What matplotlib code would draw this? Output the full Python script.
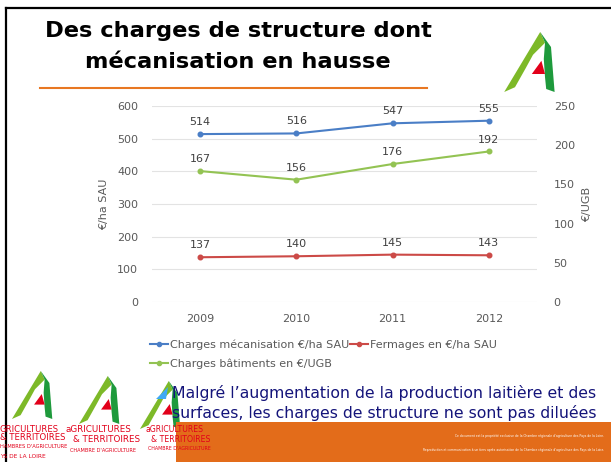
import matplotlib
matplotlib.use("Agg")
import matplotlib.pyplot as plt
from matplotlib.patches import Polygon, Rectangle, Circle
from matplotlib.lines import Line2D

years = ["2009", "2010", "2011", "2012"]
mecanisation = [514, 516, 547, 555]
fermages = [137, 140, 145, 143]
batiments = [167, 156, 176, 192]
left_ticks = [0, 100, 200, 300, 400, 500, 600]
right_ticks = [0, 50, 100, 150, 200, 250]

W, H = 611, 462
fig = plt.figure(figsize=(W / 100, H / 100), dpi=100)
fig.patch.set_facecolor("white")

bg = fig.add_axes([0, 0, 1, 1], zorder=0)
bg.set_xlim(0, W)
bg.set_ylim(H, 0)
bg.axis("off")

# slide frame
bg.plot([6, 6], [8, H], color="black", lw=1.6)
bg.plot([6, W], [8, 8], color="black", lw=1.6)

# title
bg.text(238, 31, "Des charges de structure dont", ha="center", va="center",
        fontsize=16.2, fontweight="bold", color="black")
bg.text(238, 62, "mécanisation en hausse", ha="center", va="center",
        fontsize=16.2, fontweight="bold", color="black")
bg.plot([40, 427], [88, 88], color="#E87722", lw=1.5)


def logo(cx, cy, s):
    def P(pts):
        return [(cx + x * s, cy + y * s) for x, y in pts]
    bg.add_patch(Polygon(P([(-0.48, 0.5), (0.12, -0.5), (0.2, -0.32), (0.0, -0.12),
                            (-0.12, 0.1), (-0.3, 0.42)]), closed=True,
                         facecolor="#7DB928", edgecolor="none"))
    bg.add_patch(Polygon(P([(0.12, -0.5), (0.3, -0.25), (0.36, 0.5), (0.22, 0.45),
                            (0.2, 0.25), (0.18, -0.05), (0.2, -0.32)]), closed=True,
                         facecolor="#1E9A3C", edgecolor="none"))
    bg.add_patch(Polygon(P([(-0.02, 0.2), (0.14, -0.02), (0.2, 0.2)]), closed=True,
                         facecolor="#E2001A", edgecolor="none"))


logo(533, 62, 60)

# bottom-left logos
red = "#E2001A"
logo(35, 395, 48)
bg.text(0, 429, "GRICULTURES", fontsize=6.1, color=red, va="center", ha="left")
bg.text(0, 438, "& TERRITOIRES", fontsize=6.1, color=red, va="center", ha="left")
bg.text(0, 447, "HAMBRES D'AGRICULTURE", fontsize=3.7, color=red, va="center", ha="left")
bg.text(0, 456, "YS DE LA LOIRE", fontsize=4.2, color=red, va="center", ha="left")

logo(102, 400, 48)
bg.text(66, 429, "aGRICULTURES", fontsize=6.3, color=red, va="center", ha="left")
bg.text(73, 439, "& TERRITOIRES", fontsize=6.3, color=red, va="center", ha="left")
bg.text(70, 450, "CHAMBRE D'AGRICULTURE", fontsize=3.6, color=red, va="center", ha="left")

logo(163, 405, 48)
bg.text(146, 430, "aGRICULTURES", fontsize=5.6, color=red, va="center", ha="left")
bg.text(151, 439, "& TERRITOIRES", fontsize=5.6, color=red, va="center", ha="left")
bg.text(148, 448, "CHAMBRE D'AGRICULTURE", fontsize=3.4, color=red, va="center", ha="left")

# orange footer
bg.add_patch(Rectangle((176, 422), W - 176, 40, facecolor="#E36C1A", edgecolor="none"))
bg.text(604, 436, "Ce document est la propriété exclusive de la Chambre régionale d'agriculture des Pays de la Loire.",
        fontsize=2.2, color="white", ha="right", va="center")
bg.text(604, 450, "Reproduction et communication à un tiers après autorisation de la Chambre régionale d'agriculture des Pays de la Loire.",
        fontsize=2.2, color="white", ha="right", va="center")

# bullet text
bg.add_patch(Polygon([(156, 399), (168, 387), (166, 399)], closed=True,
                     facecolor="#3FA9F5", edgecolor="none"))
bg.text(172, 393, "Malgré l\u2019augmentation de la production laitière et des",
        fontsize=11.3, color="#14147A", ha="left", va="center")
bg.text(172, 413, "surfaces, les charges de structure ne sont pas diluées",
        fontsize=11.3, color="#14147A", ha="left", va="center")

# chart
ax = fig.add_axes([152 / W, (H - 302) / H, 385 / W, 196 / H], zorder=2)
ax.patch.set_alpha(0)
ax2 = ax.twinx()
x = list(range(len(years)))
blue, redc, green = "#4A7EC6", "#CC4A47", "#93C353"
ax.plot(x, mecanisation, color=blue, lw=1.5, marker="o", ms=3.3)
ax.plot(x, fermages, color=redc, lw=1.5, marker="o", ms=3.3)
ax2.plot(x, batiments, color=green, lw=1.5, marker="o", ms=3.3)
ax.set_xlim(-0.5, 3.5)
ax.set_ylim(0, 600)
ax2.set_ylim(0, 250)
ax.set_yticks(left_ticks)
ax2.set_yticks(right_ticks)
ax.set_xticks(x)
ax.set_xticklabels(years)
ax.grid(axis="y", color="#E3E3E3", lw=0.8)
ax.set_axisbelow(True)
for a in (ax, ax2):
    for sp in a.spines.values():
        sp.set_visible(False)
    a.tick_params(length=0, colors="#595959", labelsize=8)
ax.tick_params(axis="y", pad=10)
ax2.tick_params(axis="y", pad=12)
ax.tick_params(axis="x", pad=9)
ax.set_ylabel("€/ha SAU", color="#595959", fontsize=8, labelpad=6)
ax2.set_ylabel("€/UGB", color="#595959", fontsize=8, labelpad=5)

lab = dict(textcoords="offset points", ha="center", va="bottom", fontsize=8, color="#404040")
for i, v in enumerate(mecanisation):
    ax.annotate(str(v), (i, v), xytext=(0, 5), **lab)
for i, v in enumerate(fermages):
    ax.annotate(str(v), (i, v), xytext=(0, 5), **lab)
for i, v in enumerate(batiments):
    ax2.annotate(str(v), (i, v), xytext=(0, 5), **lab)

# legend
handles = [Line2D([], [], color=blue, lw=1.5, marker="o", ms=3),
           Line2D([], [], color=redc, lw=1.5, marker="o", ms=3),
           Line2D([], [], color=green, lw=1.5, marker="o", ms=3)]
labels = ["Charges mécanisation €/ha SAU", "Fermages en €/ha SAU", "Charges bâtiments en €/UGB"]
fig.legend([handles[0], handles[1]], labels[:2], loc="center left",
           bbox_to_anchor=(150 / W, 1 - 345 / H), ncol=2, frameon=False, fontsize=8,
           handlelength=1.6, handletextpad=0.2, columnspacing=0.1, labelcolor="#595959",
           borderpad=0, borderaxespad=0)
fig.legend([handles[2]], labels[2:], loc="center left",
           bbox_to_anchor=(150 / W, 1 - 364 / H), frameon=False, fontsize=8,
           handlelength=1.6, handletextpad=0.2, labelcolor="#595959",
           borderpad=0, borderaxespad=0)

fig.savefig("out.png", dpi=100)
